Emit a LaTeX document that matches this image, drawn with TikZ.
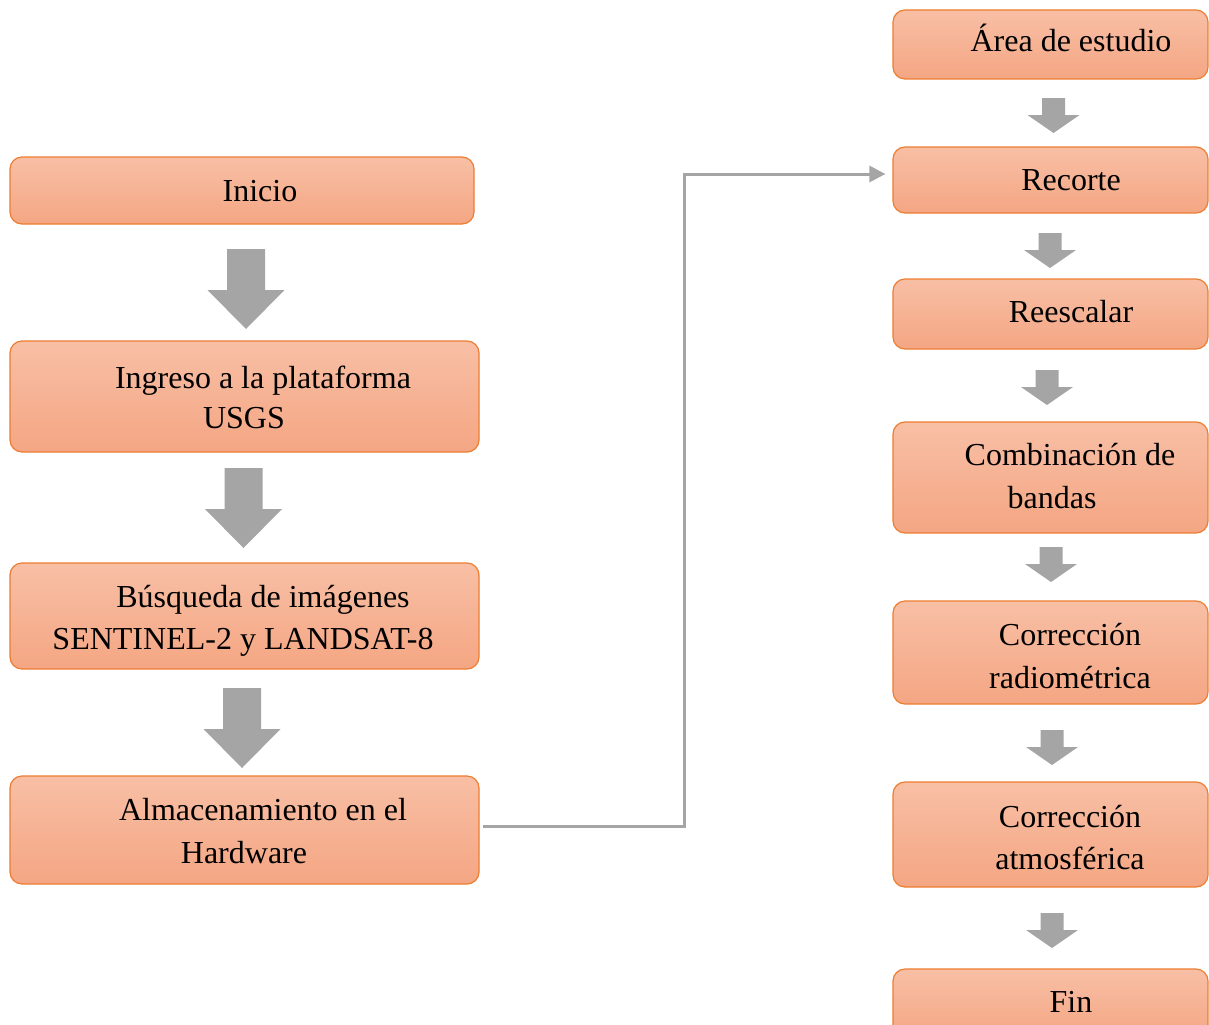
\documentclass[tikz,border=0pt]{standalone}
\usepackage{fontspec}
\setmainfont{Liberation Serif}
\usetikzlibrary{arrows.meta}

\definecolor{boxline}{HTML}{ED7D31}
\definecolor{boxtop}{HTML}{F8BFA5}
\definecolor{boxbottom}{HTML}{F4A683}
\definecolor{flowgray}{HTML}{A5A5A5}

\begin{document}
\begin{tikzpicture}[
    x=0.75pt, y=-0.75pt,
    box/.style={rectangle, rounded corners=9pt, draw=boxline, line width=0.9pt,
                top color=boxtop, bottom color=boxbottom, inner sep=0pt},
    label/.style={anchor=base, inner sep=0pt, font=\fontsize{24}{30}\selectfont},
    conn/.style={draw=flowgray, line width=2.25pt,
                 -{Triangle[length=12pt, width=12pt]}},
    bigarrow/.pic={\fill[flowgray] (-19,0) -- (19,0) -- (19,41) -- (38.5,41)
                      -- (0,80) -- (-38.5,41) -- (-19,41) -- cycle;},
    smallarrow/.pic={\fill[flowgray] (-11.5,0) -- (11.5,0) -- (11.5,17) -- (26,17)
                      -- (0,35) -- (-26,17) -- (-11.5,17) -- cycle;}
  ]
  \clip (0,0) rectangle (1209,1024);
  \fill[white] (0,0) rectangle (1209,1024);

  % left column
  \node[box, minimum width=348pt, minimum height=50.25pt] (inicio) at (242,190.5) {};
  \node[box, minimum width=351.75pt, minimum height=83.25pt] (ingreso) at (244.5,396.5) {};
  \node[box, minimum width=351.75pt, minimum height=79.5pt] (busqueda) at (244.5,616) {};
  \node[box, minimum width=351.75pt, minimum height=81pt] (almac) at (244.5,830) {};

  \node[label] (tInicio) at (260,201) {Inicio};
  \node[label] (tIngreso1) at (263,388) {Ingreso a la plataforma};
  \node[label] (tIngreso2) at (244,428) {USGS};
  \node[label] (tBusq1) at (263,607) {Búsqueda de imágenes};
  \node[label] (tBusq2) at (243,649) {SENTINEL-2 y LANDSAT-8};
  \node[label] (tAlm1) at (263,820) {Almacenamiento en el};
  \node[label] (tAlm2) at (244,863) {Hardware};

  \pic at (246,249) {bigarrow};
  \pic at (243.5,468) {bigarrow};
  \pic at (242,688) {bigarrow};

  % right column
  \node[box, minimum width=236.25pt, minimum height=51.75pt] (area) at (1050.5,44.5) {};
  \node[box, minimum width=236.25pt, minimum height=49.5pt] (recorte) at (1050.5,180) {};
  \node[box, minimum width=236.25pt, minimum height=52.5pt] (reesc) at (1050.5,314) {};
  \node[box, minimum width=236.25pt, minimum height=83.25pt] (comb) at (1050.5,477.5) {};
  \node[box, minimum width=236.25pt, minimum height=77.25pt] (radio) at (1050.5,652.5) {};
  \node[box, minimum width=236.25pt, minimum height=78.75pt] (atmos) at (1050.5,834.5) {};
  \node[box, minimum width=236.25pt, minimum height=53.25pt] (fin) at (1050.5,1004.5) {};

  \node[label] (tArea) at (1071,52) {Área de estudio};
  \node[label] (tRecorte) at (1071,190) {Recorte};
  \node[label] (tReesc) at (1071,322) {Reescalar};
  \node[label] (tComb1) at (1070,465) {Combinación de};
  \node[label] (tComb2) at (1052,508) {bandas};
  \node[label] (tRadio1) at (1070,645) {Corrección};
  \node[label] (tRadio2) at (1070,688) {radiométrica};
  \node[label] (tAtmos1) at (1070,827) {Corrección};
  \node[label] (tAtmos2) at (1070,869) {atmosférica};
  \node[label] (tFin) at (1071,1012) {Fin};

  \pic at (1053.5,98) {smallarrow};
  \pic at (1050,233) {smallarrow};
  \pic at (1047,370) {smallarrow};
  \pic at (1051,547) {smallarrow};
  \pic at (1052,730) {smallarrow};
  \pic at (1052,913) {smallarrow};

  % link between the two columns
  \coordinate (bend) at (684,174);
  \draw[conn, shorten <=2.25pt, shorten >=5.25pt]
    ([yshift=3pt]almac.east) -| (bend) -- ([yshift=4.5pt]recorte.west);
\end{tikzpicture}
\end{document}
